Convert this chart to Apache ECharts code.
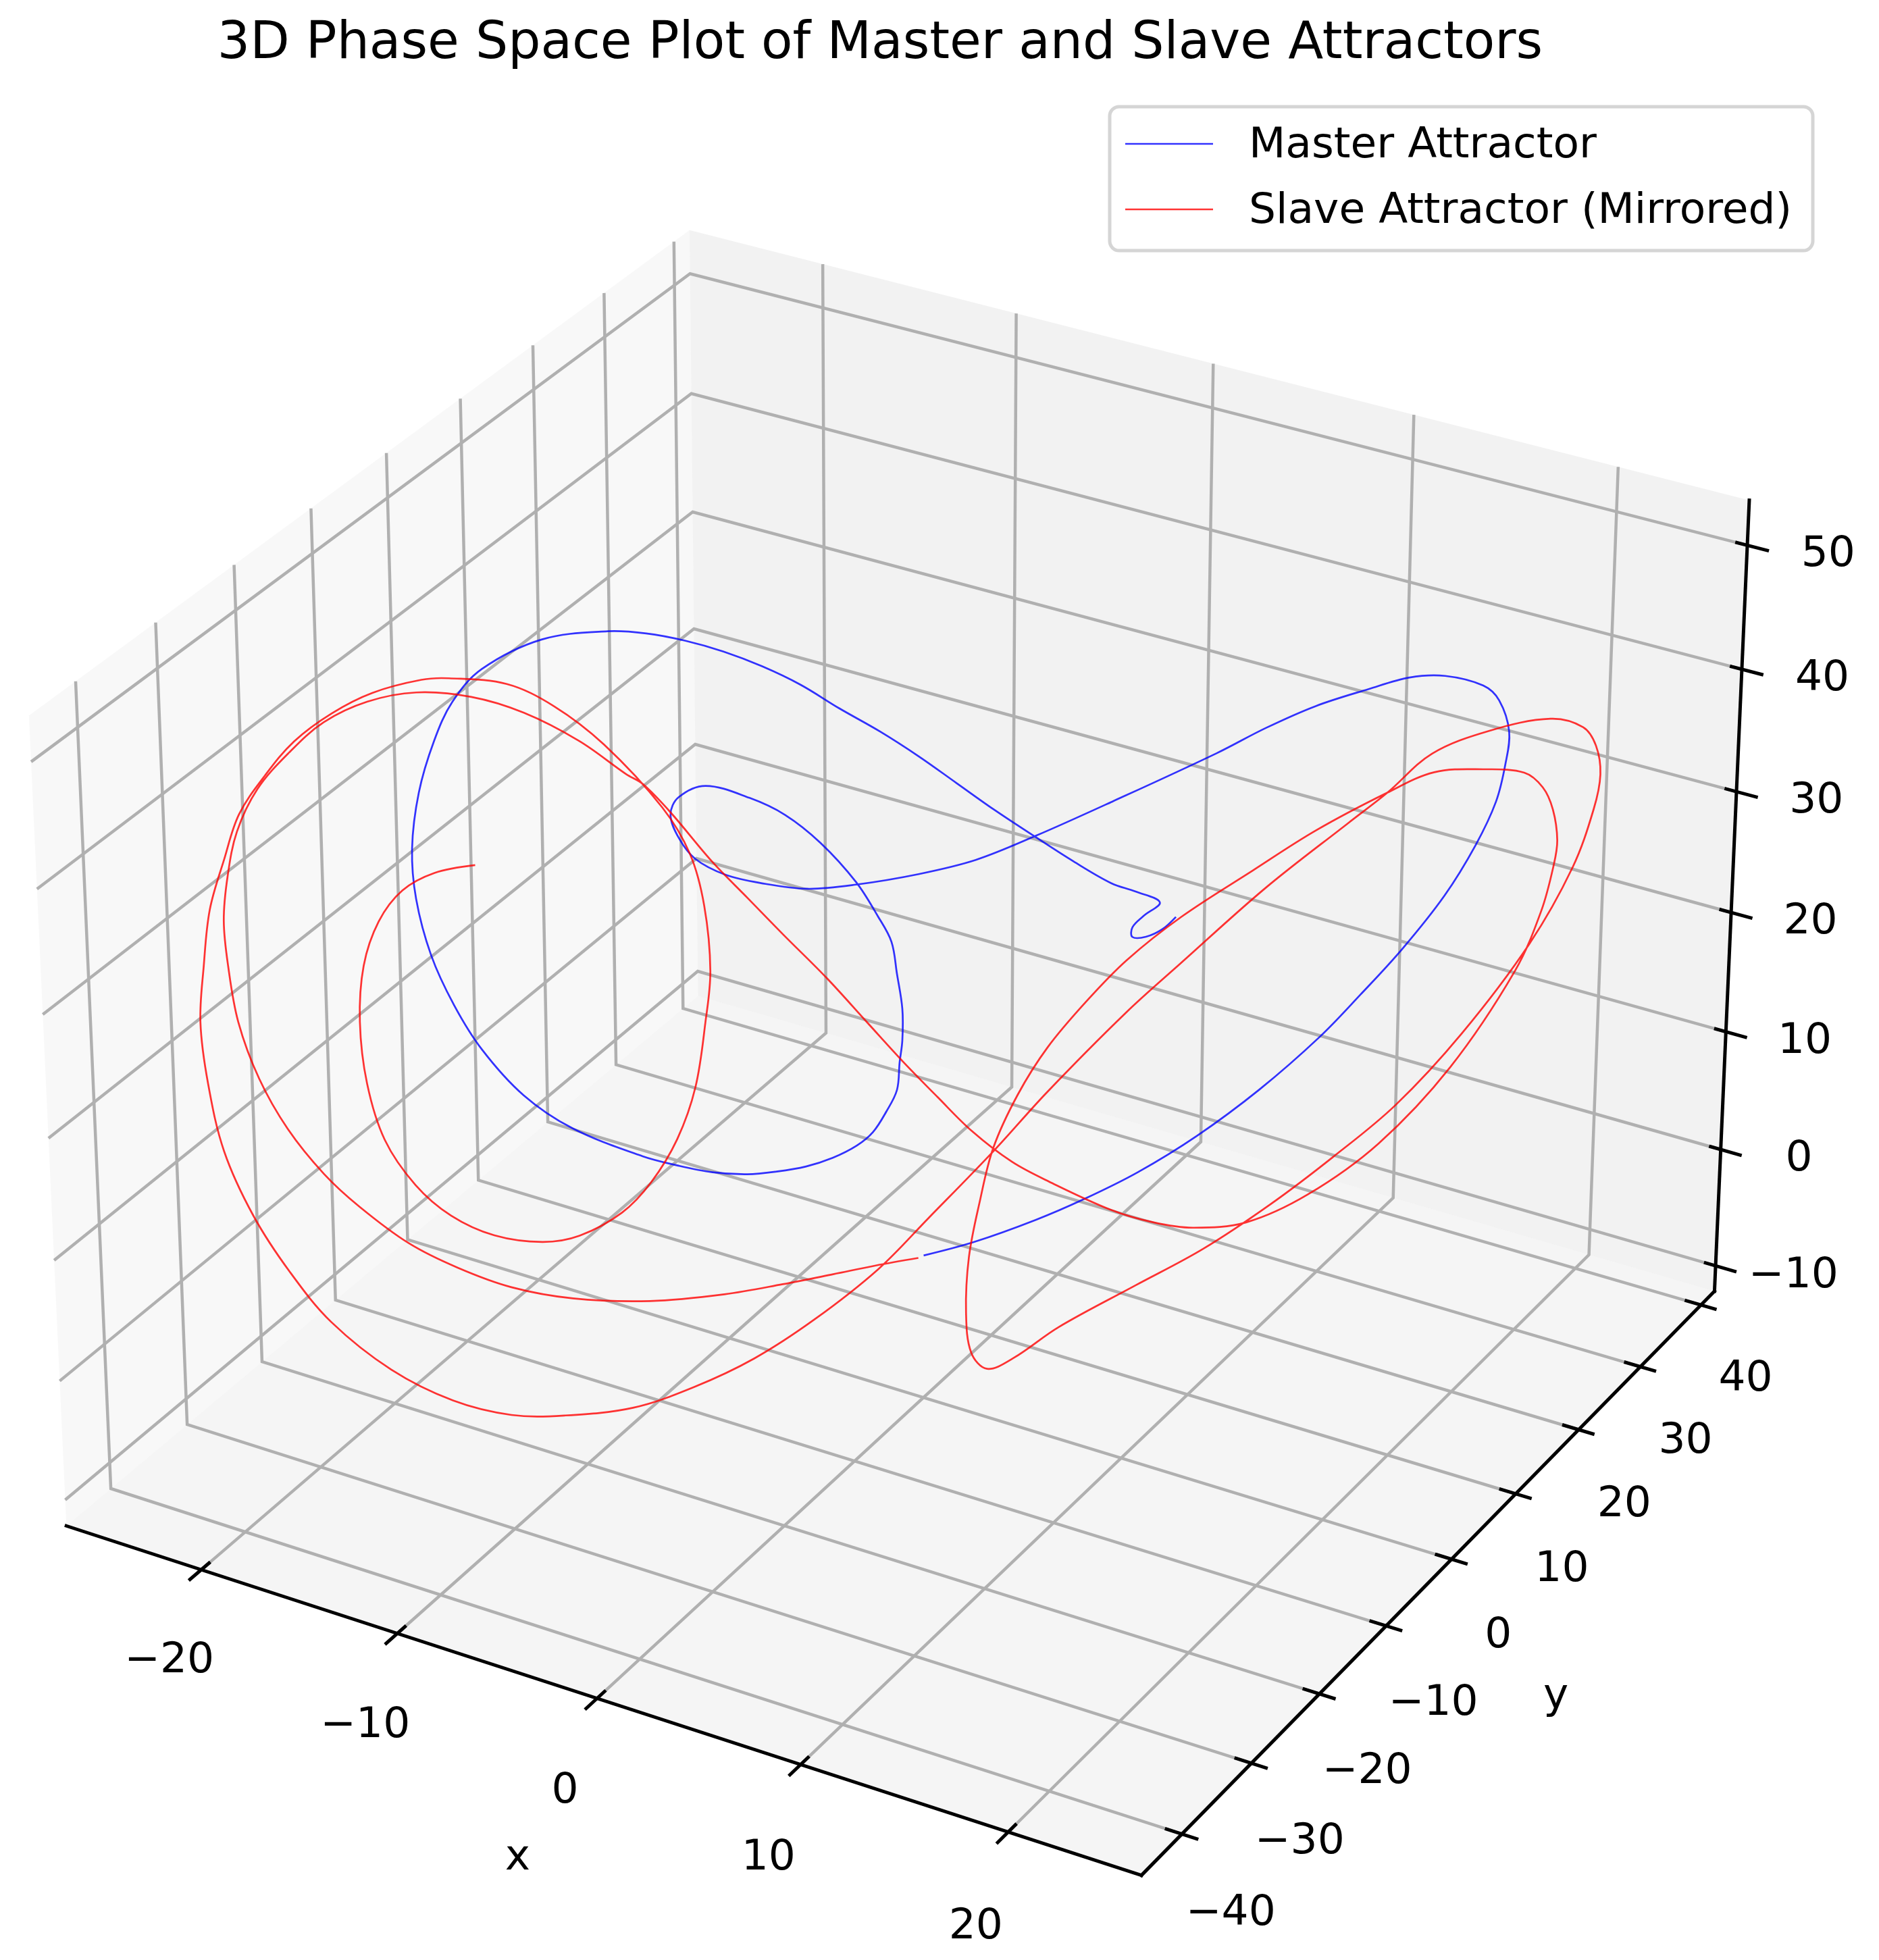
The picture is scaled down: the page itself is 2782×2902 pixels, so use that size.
<!DOCTYPE html>
<html>
<head>
<meta charset="utf-8">
<title>3D Phase Space Plot of Master and Slave Attractors</title>
<script src="https://cdn.jsdelivr.net/npm/echarts@6.0.0/dist/echarts.min.js"></script>
<style>
  html, body { margin: 0; padding: 0; background: #fff; }
  #chart { width: 2782px; height: 2902px; }
</style>
</head>
<body>
<div id="chart"></div>
<script>
// ticks shown on the three axes
const xTicks = [-20, -10, 0, 10, 20];
const yTicks = [-40, -30, -20, -10, 0, 10, 20, 30, 40];
const zTicks = [-10, 0, 10, 20, 30, 40, 50];

// limits of the 3D box
const xLim = [-26.99, 26.32];
const yLim = [-45.74, 42.26];
const zLim = [-12.2, 53.6];

// master attractor
const masterX = [0.0, 1.9, 4.2, 6.0, 8.0, 10.2, 12.5, 14.7, 16.2, 17.7, 19.2, 20.3, 21.0, 21.3, 21.4,
  21.0, 20.4, 19.0, 17.7, 16.2, 14.3, 12.5, 10.7, 6.9, 4.1, 1.9,
  -0.2, -2.5, -4.3, -6.0, -7.3, -8.4, -9.0, -9.3, -9.0, -8.0, -6.4, -5.1, -3.8, -2.5, -1.7, -1.2, -1.0, -0.8, -0.8, -0.9,
  -1.0, -1.4, -1.9, -2.5, -3.4, -4.4, -5.5, -6.6, -7.9, -9.2, -10.5,
  -13.1, -14.9, -16.4, -17.4, -18.2, -18.7, -18.8, -18.5, -17.9, -17.2, -16.1, -13.9,
  -11.5, -10.1, -8.7, -7.3, -5.9, -4.5, -3.1, -1.6, -0.2, 1.2, 2.6, 4.1, 5.5, 6.9, 7.8, 8.7, 8.1, 7.7, 7.7, 8.2, 8.8, 9.3];
const masterY = [0.0, 1.9, 4.2, 6.0, 8.0, 10.2, 12.5, 14.7, 16.2, 17.7, 19.2, 20.3, 21.0, 21.3, 21.4,
  21.0, 20.4, 19.0, 17.7, 16.2, 14.3, 12.5, 10.7, 6.9, 4.1, 1.9,
  -0.2, -2.5, -4.3, -6.0, -7.3, -8.4, -9.0, -9.3, -9.0, -8.0, -6.4, -5.1, -3.8, -2.5, -1.7, -1.2, -1.0, -0.8, -0.8, -0.9,
  -1.0, -1.4, -1.9, -2.5, -3.4, -4.4, -5.5, -6.6, -7.9, -9.2, -10.5,
  -13.1, -14.9, -16.4, -17.4, -18.2, -18.7, -18.8, -18.5, -17.9, -17.2, -16.1, -13.9,
  -11.5, -10.1, -8.7, -7.3, -5.9, -4.5, -3.1, -1.6, -0.2, 1.2, 2.6, 4.1, 5.5, 6.9, 7.8, 8.7, 8.1, 7.7, 7.7, 8.2, 8.8, 9.3];
const masterZ = [-0.1, 1.0, 2.8, 4.5, 6.7, 9.7, 13.5, 17.8, 21.3, 25.0, 29.3, 33.4, 36.9, 39.9, 42.5,
  45.0, 46.2, 47.0, 46.9, 46.0, 44.7, 43.0, 41.0, 37.2, 34.5, 32.6,
  31.5, 30.7, 30.4, 30.9, 31.6, 32.9, 34.6, 36.5, 37.9, 38.8, 37.8, 36.4, 34.1, 30.9, 28.1, 26.0, 23.4, 20.5, 17.9, 16.1,
  13.8, 12.0, 10.3, 9.2, 8.2, 7.5, 7.1, 6.9, 7.1, 7.7, 8.5,
  10.9, 13.7, 17.5, 21.2, 25.3, 29.9, 34.0, 38.5, 42.6, 45.7, 48.3, 50.6,
  51.2, 51.0, 50.4, 49.5, 48.3, 46.8, 44.9, 43.0, 41.0, 38.8, 36.6, 34.4, 32.4, 30.6, 29.9, 29.0, 27.9, 27.0, 26.2, 26.2, 26.8, 27.8];

// slave attractor, mirrored
const slaveX = [-0.2, -1.8, -3.4, -5.3, -7.5, -10.3, -13.2, -15.5, -17.5, -19.3, -21.1, -22.4, -23.7, -24.7, -25.4, -25.7, -25.8, -25.6, -25.2, -24.4,
  -23.2, -21.9, -20.3, -18.5, -16.5, -14.6, -12.6, -10.9,
  -10.3, -9.3, -7.8, -6.5, -5.2, -3.6, -2.1, -0.8, 0.5, 1.8, 3.3,
  4.7, 7.0, 8.6, 10.1, 12.1, 14.4, 17.0, 19.6, 21.9, 22.8, 23.2, 23.3, 23.1, 22.7, 22.0, 20.5, 18.7, 17.0, 14.4, 12.1,
  9.5, 7.5, 6.0, 4.6, 3.5, 2.6, 2.1, 1.7, 1.6, 1.8, 2.4, 3.4, 5.1, 8.0, 10.5, 13.0, 15.3, 17.6, 20.0, 22.4,
  23.9, 24.6, 24.8, 24.6, 24.1, 22.9, 20.7, 18.6, 17.0, 15.6, 12.6, 9.5, 7.5, 4.6, 2.6, 0.2, -1.7, -4.1, -6.4, -8.7,
  -11.0, -13.6, -15.6, -17.8, -20.1, -22.3, -23.8, -25.1, -26.1, -26.6, -26.8, -26.6, -26.3, -25.7, -25.1, -24.1, -23.0, -21.6, -20.1, -18.3,
  -17.3, -15.2, -13.5, -11.7,
  -9.6, -8.6, -8.1, -7.9, -8.1, -8.5, -9.2, -10.2,
  -11.3, -12.9, -14.3, -16.1, -17.7, -19.0, -20.1, -20.7, -20.9, -20.7, -20.1, -19.2, -18.0, -16.5];
const slaveY = [-0.2, -1.8, -3.4, -5.3, -7.5, -10.3, -13.2, -15.5, -17.5, -19.3, -21.1, -22.4, -23.7, -24.7, -25.4, -25.7, -25.8, -25.6, -25.2, -24.4,
  -23.2, -21.9, -20.3, -18.5, -16.5, -14.6, -12.6, -10.9,
  -10.3, -9.3, -7.8, -6.5, -5.2, -3.6, -2.1, -0.8, 0.5, 1.8, 3.3,
  4.7, 7.0, 8.6, 10.1, 12.1, 14.4, 17.0, 19.6, 21.9, 22.8, 23.2, 23.3, 23.1, 22.7, 22.0, 20.5, 18.7, 17.0, 14.4, 12.1,
  9.5, 7.5, 6.0, 4.6, 3.5, 2.6, 2.1, 1.7, 1.6, 1.8, 2.4, 3.4, 5.1, 8.0, 10.5, 13.0, 15.3, 17.6, 20.0, 22.4,
  23.9, 24.6, 24.8, 24.6, 24.1, 22.9, 20.7, 18.6, 17.0, 15.6, 12.6, 9.5, 7.5, 4.6, 2.6, 0.2, -1.7, -4.1, -6.4, -8.7,
  -11.0, -13.6, -15.6, -17.8, -20.1, -22.3, -23.8, -25.1, -26.1, -26.6, -26.8, -26.6, -26.3, -25.7, -25.1, -24.1, -23.0, -21.6, -20.1, -18.3,
  -17.3, -15.2, -13.5, -11.7,
  -9.6, -8.6, -8.1, -7.9, -8.1, -8.5, -9.2, -10.2,
  -11.3, -12.9, -14.3, -16.1, -17.7, -19.0, -20.1, -20.7, -20.9, -20.7, -20.1, -19.2, -18.0, -16.5];
const slaveZ = [-0.3, -0.9, -1.6, -2.4, -3.2, -3.7, -3.4, -2.4, -0.7, 1.4, 4.5, 7.3, 11.1, 15.3, 20.0, 24.6, 28.3, 31.9, 35.5, 38.9,
  41.8, 44.2, 45.8, 46.5, 46.1, 44.8, 42.5, 39.8,
  39.0, 36.7, 32.7, 29.7, 26.7, 23.1, 19.4, 16.2, 13.2, 10.3, 7.7,
  6.0, 3.6, 2.5, 2.0, 2.4, 4.7, 8.9, 15.2, 23.1, 28.0, 31.7, 33.7, 36.2, 38.0, 39.2, 39.5, 39.3, 37.7, 34.7, 31.5,
  27.8, 24.3, 20.9, 17.2, 13.3, 8.9, 4.4, -0.3, -5.0, -8.4, -9.8, -8.9, -6.3, -2.8, 0.2, 3.9, 7.8, 12.1, 18.0, 25.3,
  31.5, 36.2, 39.0, 41.3, 42.8, 43.5, 42.6, 40.8, 37.7, 35.3, 30.1, 24.0, 20.0, 13.5, 8.6, 3.1, -1.2, -5.4, -8.7, -11.1,
  -12.8, -13.4, -13.3, -12.0, -9.3, -5.2, -0.9, 3.9, 9.3, 14.9, 20.0, 24.6, 29.2, 33.3, 36.9, 40.0, 42.7, 44.9, 46.5, 47.5,
  47.6, 47.1, 45.3, 42.2,
  37.1, 33.3, 29.1, 23.8, 19.6, 14.2, 9.9, 6.3,
  3.8, 1.9, 1.4, 2.0, 3.7, 6.3, 10.1, 14.8, 19.9, 24.5, 28.1, 30.6, 32.0, 32.6];

// ---- matplotlib-style perspective projection (elev 30, azim -60, dist 10) ----
const ELEV = 30, AZIM = -60, DIST = 10;
const boxNorm = Math.hypot(4, 4, 3);
const box = [4, 4, 3].map(v => v * 1.8294640721620434 / boxNorm);
const R = box.map(v => v / 2);
const el = ELEV * Math.PI / 180, az = AZIM * Math.PI / 180;
const wv = [Math.cos(el) * Math.cos(az), Math.cos(el) * Math.sin(az), Math.sin(el)];
const eye = R.map((r, i) => r + DIST * wv[i]);

function cross(a, b) {
  return [a[1] * b[2] - a[2] * b[1], a[2] * b[0] - a[0] * b[2], a[0] * b[1] - a[1] * b[0]];
}
function dot(a, b) { return a[0] * b[0] + a[1] * b[1] + a[2] * b[2]; }

let uv = cross([0, 0, 1], wv);
const un = Math.hypot(uv[0], uv[1], uv[2]);
uv = uv.map(v => v / un);
const vv = cross(wv, uv);

function project(x, y, z) {
  const p = [
    (x - xLim[0]) / (xLim[1] - xLim[0]) * box[0],
    (y - yLim[0]) / (yLim[1] - yLim[0]) * box[1],
    (z - zLim[0]) / (zLim[1] - zLim[0]) * box[2]
  ];
  const d = p.map((v, i) => v - eye[i]);
  const depth = -dot(wv, d);
  return [dot(uv, d) / depth, dot(vv, d) / depth];
}

const [x0, x1] = xLim, [y0, y1] = yLim, [z0, z1] = zLim;

// panes
const panes = [
  { pts: [[x0, y0, z0], [x0, y1, z0], [x0, y1, z1], [x0, y0, z1]], color: 'rgba(242,242,242,0.5)' },
  { pts: [[x0, y1, z0], [x1, y1, z0], [x1, y1, z1], [x0, y1, z1]], color: 'rgba(230,230,230,0.5)' },
  { pts: [[x0, y0, z0], [x1, y0, z0], [x1, y1, z0], [x0, y1, z0]], color: 'rgba(236,236,236,0.5)' }
].map(p => ({ pts: p.pts.map(q => project(...q)), color: p.color }));

// grid lines
const grid = [];
xTicks.forEach(t => grid.push([[t, y0, z0], [t, y1, z0], [t, y1, z1]]));
yTicks.forEach(t => grid.push([[x1, t, z0], [x0, t, z0], [x0, t, z1]]));
zTicks.forEach(t => grid.push([[x0, y0, t], [x0, y1, t], [x1, y1, t]]));
const gridLines = grid.map(l => l.map(q => project(...q)));

// axis lines and tick marks
const axes = [
  [[x0, y0, z0], [x1, y0, z0]],
  [[x1, y0, z0], [x1, y1, z0]],
  [[x1, y1, z0], [x1, y1, z1]]
];
xTicks.forEach(t => axes.push([[t, y0 - 1.46, z0], [t, y0 + 1.0, z0]]));
yTicks.forEach(t => axes.push([[x1 - 0.73, t, z0], [x1 + 0.70, t, z0]]));
zTicks.forEach(t => axes.push([[x1 - 0.5, y1, t], [x1 + 0.96, y1, t]]));
const axisLines = axes.map(l => l.map(q => project(...q)));

// tick labels
const fmt = v => (v < 0 ? '\u2212' + Math.abs(v) : String(v));
const labels = [];
xTicks.forEach(t => labels.push({ pos: project(t, y0 - 4.44, z0 - 5.0), text: fmt(t) }));
yTicks.forEach(t => labels.push({ pos: project(x1 + 2.36, t, z0 - 5.04), text: fmt(t) }));
zTicks.forEach(t => labels.push({ pos: project(x1 + 3.31, y1 + 1.93, t), text: fmt(t) }));
labels.push({ pos: project((x0 + x1) / 2, y0 - 9.9, z0 - 7.6), text: 'x' });
labels.push({ pos: project(x1 + 5.74, (y0 + y1) / 2, z0 - 7.4), text: 'y' });

// projected trajectories
const masterPts = masterX.map((x, i) => project(x, masterY[i], masterZ[i]));
const slavePts = slaveX.map((x, i) => project(x, slaveY[i], slaveZ[i]));

const FONT = 'DejaVu Sans';
const W = 2782, H = 2902, CX = 1340, CY = 1502.5, S = 15960;

function curveSeries(name, pts, color, z) {
  return {
    name: name, type: 'custom', silent: true, z: z,
    data: [pts[0]],
    renderItem: (params, api) => ({
      type: 'polyline',
      shape: { points: pts.map(q => api.coord(q)), smooth: 0.35 },
      style: { stroke: color, lineWidth: 2.7, fill: 'none', lineJoin: 'round' }
    })
  };
}

const chart = echarts.init(document.getElementById('chart'));

chart.setOption({
  animation: false,
  backgroundColor: '#ffffff',
  grid: { left: 0, right: 0, top: 0, bottom: 0 },
  xAxis: { type: 'value', min: -CX / S, max: (W - CX) / S, show: false },
  yAxis: { type: 'value', min: (CY - H) / S, max: CY / S, show: false },
  series: [
    {
      type: 'custom', silent: true, z: 1,
      data: panes.map(p => p.pts[0]),
      renderItem: (params, api) => ({
        type: 'polygon',
        shape: { points: panes[params.dataIndex].pts.map(q => api.coord(q)) },
        style: { fill: panes[params.dataIndex].color, stroke: 'none' }
      })
    },
    {
      type: 'custom', silent: true, z: 2,
      data: gridLines.map(l => l[0]),
      renderItem: (params, api) => ({
        type: 'polyline',
        shape: { points: gridLines[params.dataIndex].map(q => api.coord(q)) },
        style: { stroke: '#b0b0b0', lineWidth: 4.5, fill: 'none' }
      })
    },
    {
      type: 'custom', silent: true, z: 3,
      data: axisLines.map(l => l[0]),
      renderItem: (params, api) => ({
        type: 'polyline',
        shape: { points: axisLines[params.dataIndex].map(q => api.coord(q)) },
        style: { stroke: '#000000', lineWidth: 5, fill: 'none', lineCap: 'square' }
      })
    },
    {
      type: 'custom', silent: true, z: 3,
      data: labels.map(l => l.pos),
      renderItem: (params, api) => {
        const c = api.coord(labels[params.dataIndex].pos);
        return {
          type: 'text', x: c[0], y: c[1] + 4,
          style: {
            text: labels[params.dataIndex].text, fill: '#000000',
            fontSize: 63, fontFamily: FONT,
            align: 'center', verticalAlign: 'middle'
          }
        };
      }
    },
    curveSeries('Master Attractor', masterPts, 'rgba(0,0,255,0.8)', 4),
    curveSeries('Slave Attractor (Mirrored)', slavePts, 'rgba(255,0,0,0.8)', 5)
  ],
  graphic: [
    {
      type: 'text', x: 1303, y: 66, z: 10,
      style: {
        text: '3D Phase Space Plot of Master and Slave Attractors', fill: '#000000',
        fontSize: 76, fontFamily: FONT, align: 'center', verticalAlign: 'middle'
      }
    },
    {
      type: 'rect', z: 10,
      shape: { x: 1643, y: 158, width: 1041, height: 213, r: 14 },
      style: { fill: 'rgba(255,255,255,0.8)', stroke: '#d5d5d5', lineWidth: 5 }
    },
    {
      type: 'line', z: 11,
      shape: { x1: 1666, y1: 213, x2: 1796, y2: 213 },
      style: { stroke: 'rgba(0,0,255,0.8)', lineWidth: 2.7 }
    },
    {
      type: 'text', x: 1849, y: 217, z: 11,
      style: {
        text: 'Master Attractor', fill: '#000000', fontSize: 63, fontFamily: FONT,
        align: 'left', verticalAlign: 'middle'
      }
    },
    {
      type: 'line', z: 11,
      shape: { x1: 1666, y1: 310, x2: 1796, y2: 310 },
      style: { stroke: 'rgba(255,0,0,0.8)', lineWidth: 2.7 }
    },
    {
      type: 'text', x: 1849, y: 314, z: 11,
      style: {
        text: 'Slave Attractor (Mirrored)', fill: '#000000', fontSize: 63, fontFamily: FONT,
        align: 'left', verticalAlign: 'middle'
      }
    }
  ]
});
</script>
</body>
</html>
